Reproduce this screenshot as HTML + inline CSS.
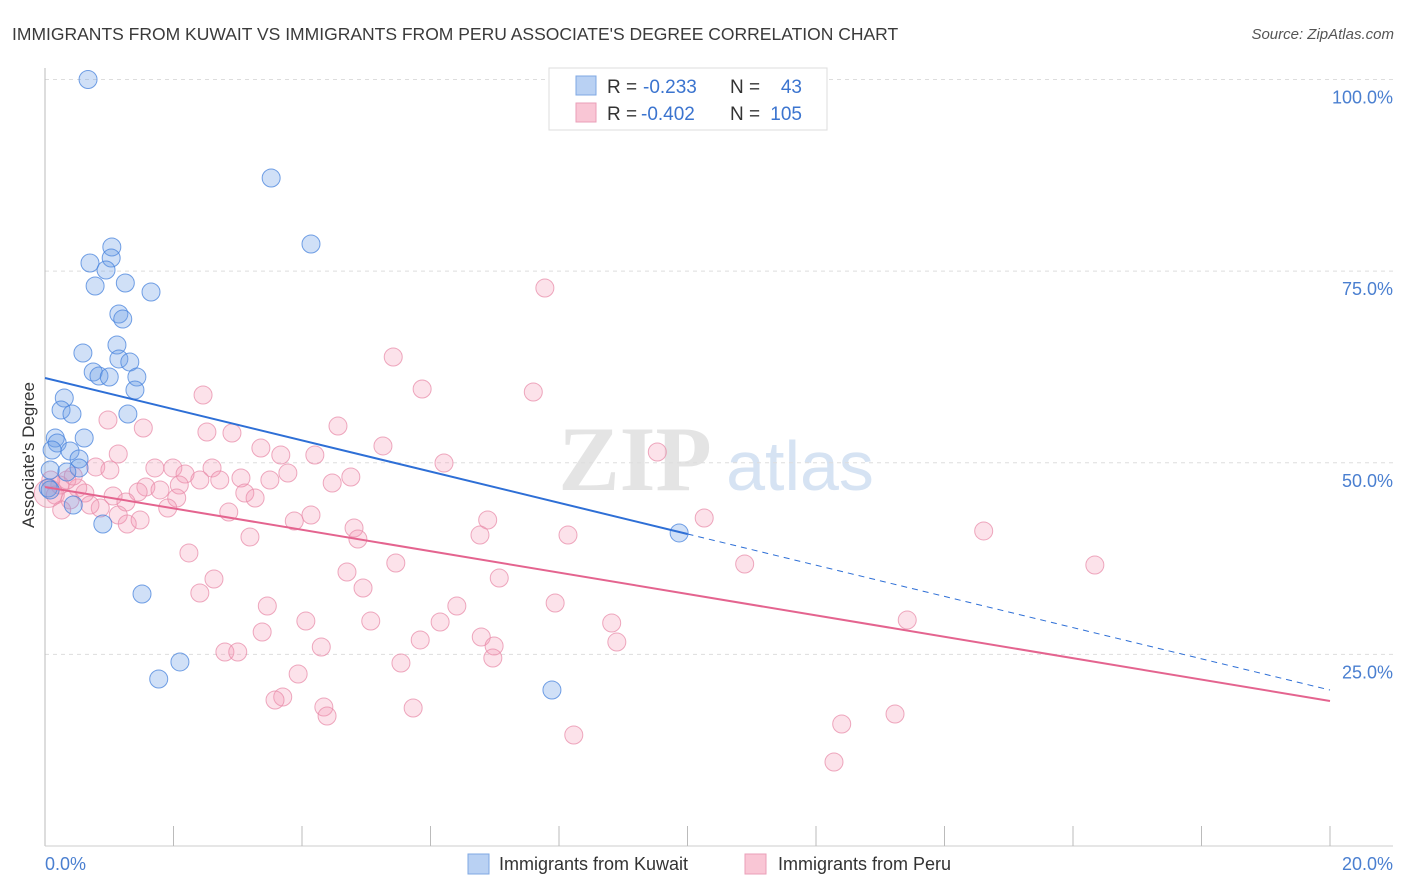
<!DOCTYPE html>
<html><head><meta charset="utf-8"><style>
body{margin:0;background:#fff;font-family:"Liberation Sans",sans-serif;}
svg{display:block}
</style></head><body>
<svg id="chart" width="1406" height="892" font-family="Liberation Sans, sans-serif">
<text x="12" y="40" font-size="17.5" fill="#3a3a3a">IMMIGRANTS FROM KUWAIT VS IMMIGRANTS FROM PERU ASSOCIATE'S DEGREE CORRELATION CHART</text>
<text x="1394" y="39" font-size="15" fill="#555" font-style="italic" text-anchor="end">Source: ZipAtlas.com</text>
<g>
<text x="635" y="490" font-size="92" fill="#e4e4e4" font-family="Liberation Serif, serif" text-anchor="middle" font-weight="bold">ZIP</text>
<text x="800" y="490" font-size="70" fill="#d6e3f3" text-anchor="middle">atlas</text>
</g>
<g id="grid"></g>
<g id="axes"></g>
<g id="marks"></g>
<g id="trends"></g>
<text transform="translate(34,455) rotate(-90)" font-size="17" fill="#333" text-anchor="middle">Associate's Degree</text>
<g>
<rect x="549" y="68" width="278" height="62" fill="#fff" stroke="#ddd"/>
<rect x="576" y="76" width="20" height="19" fill="#b9d1f3" stroke="#7fa8e3"/>
<rect x="576" y="103" width="20" height="19" fill="#f9c6d5" stroke="#ea9fb8"/>
<text x="607" y="93" font-size="19" fill="#333">R = </text><text x="643" y="93" font-size="19" fill="#3b74cf">-0.233</text>
<text x="730" y="93" font-size="19" fill="#333">N = </text><text x="802" y="93" font-size="19" fill="#3b74cf" text-anchor="end">43</text>
<text x="607" y="120" font-size="19" fill="#333">R = </text><text x="641" y="120" font-size="19" fill="#3b74cf">-0.402</text>
<text x="730" y="120" font-size="19" fill="#333">N = </text><text x="802" y="120" font-size="19" fill="#3b74cf" text-anchor="end">105</text>
</g>
<g>
<rect x="468" y="854" width="21" height="20" fill="#b9d1f3" stroke="#7fa8e3"/>
<text x="499" y="870" font-size="18" fill="#333">Immigrants from Kuwait</text>
<rect x="745" y="854" width="21" height="20" fill="#f9c6d5" stroke="#ea9fb8"/>
<text x="778" y="870" font-size="18" fill="#333">Immigrants from Peru</text>
</g>
</svg>
<script>
const yTicks=[25,50,75,100];
const yTickLabels=["25.0%","50.0%","75.0%","100.0%"];
const xTickLabels=["0.0%","20.0%"];
const kuwaitX=[.67,3.52,4.14,1.04,.70,1.03,.95,.78,1.25,1.65,1.15,1.21,.59,1.12,.75,1.15,1.32,.84,1.00,1.43,1.40,.30,.25,.42,1.29,.61,.16,.19,.11,.39,.53,.53,.34,.08,.05,.44,.90,1.51,2.10,1.77,7.89,9.87,.08];
const kuwaitY=[100.0,87.15,78.54,78.15,76.06,76.71,75.15,73.06,73.45,72.28,69.41,68.75,64.32,65.36,61.84,63.54,63.14,61.32,61.19,61.19,59.49,58.45,56.88,56.36,56.36,53.23,53.23,52.58,51.66,51.53,50.49,49.32,48.79,49.05,46.71,44.49,42.01,32.88,24.01,21.79,20.35,40.84,46.45];
const peruX=[7.78,5.42,5.87,7.60,2.46,.98,1.53,4.56,2.52,2.91,5.26,3.36,1.14,3.67,4.20,9.53,6.21,.79,1.71,1.99,2.60,3.78,2.18,4.76,3.05,3.50,4.47,2.72,1.57,2.09,1.79,1.45,3.11,3.27,2.05,1.06,1.26,.86,.62,.51,.23,.34,.44,.09,.16,.39,1.91,2.86,1.14,1.28,3.88,4.14,6.89,4.81,6.77,8.14,4.87,10.26,14.61,3.19,2.24,16.34,10.89,5.46,4.70,2.63,7.07,4.95,2.41,7.94,3.46,6.41,4.06,5.07,6.15,8.82,13.42,3.38,6.79,5.84,8.90,4.30,6.99,2.80,3.00,6.97,5.54,3.94,3.70,3.58,4.34,4.39,5.73,12.40,13.23,8.23,12.28,.26,.70,2.41,1.48,1.01,.05];
const peruY=[72.80,63.80,59.62,59.23,58.84,55.58,54.53,54.79,54.01,53.88,52.19,51.92,51.14,51.01,51.01,51.40,49.97,49.45,49.32,49.32,49.32,48.66,48.53,48.14,48.01,47.75,47.36,47.75,46.84,47.10,46.45,46.18,46.05,45.40,45.40,45.66,44.88,44.10,46.05,46.71,47.10,47.75,48.27,47.75,45.79,45.14,44.10,43.57,43.18,42.01,42.40,43.18,42.53,41.49,40.57,40.57,40.05,42.79,41.10,40.31,38.23,36.66,36.79,36.92,35.75,34.83,34.96,33.66,33.01,31.70,31.31,31.31,29.35,29.35,29.22,29.09,29.48,27.92,27.27,26.88,26.61,25.96,26.09,25.31,25.31,24.53,23.87,22.44,19.44,19.05,18.13,16.96,18.00,15.92,17.22,14.48,10.96,43.84,44.49,47.75,42.53,49.05,46.0];
const kuwaitTrend=[61.06,20.35];
const peruTrend=[46.84,18.92];
const kuwaitSolidEnd=10;

const NS="http://www.w3.org/2000/svg";
const X0=45,X1=1330,Y0=846,YSCALE=7.665;
function sx(v){return X0+v/20*(X1-X0);}
function sy(v){return Y0-v*YSCALE;}
function mk(tag,attrs,parent){const e=document.createElementNS(NS,tag);for(const k in attrs)e.setAttribute(k,attrs[k]);parent.appendChild(e);return e;}
const grid=document.getElementById('grid'),axes=document.getElementById('axes'),marks=document.getElementById('marks'),trends=document.getElementById('trends');
yTicks.forEach((t,i)=>{
 const l=mk('line',{x1:X0,x2:1393,y1:sy(t),y2:sy(t),stroke:'#ddd','stroke-dasharray':'4,4'},grid);
 
 
 const tx=mk('text',{x:1393,y:sy(t)+24,'font-size':18,fill:'#4a7fd0','text-anchor':'end'},axes);
 tx.textContent=yTickLabels[i];
 
 
});
const ya=mk('line',{x1:X0,x2:X0,y1:68,y2:Y0,stroke:'#bbb'},axes);


const xa=mk('line',{x1:X0,x2:1393,y1:Y0,y2:Y0,stroke:'#ccc'},axes);


for(let i=1;i<=10;i++){
 const t=mk('line',{x1:sx(i*2),x2:sx(i*2),y1:826,y2:Y0,stroke:'#bbb'},axes);
 
 
}
const xl0=mk('text',{x:45,y:870,'font-size':18,fill:'#4a7fd0'},axes);xl0.textContent=xTickLabels[0];


const xl1=mk('text',{x:1393,y:870,'font-size':18,fill:'#4a7fd0','text-anchor':'end'},axes);xl1.textContent=xTickLabels[1];


peruX.forEach((v,i)=>{
 const c=mk('circle',{cx:sx(v),cy:sy(peruY[i]),r:i===peruX.length-1?14:9,fill:'rgba(244,150,180,0.28)',stroke:'rgba(232,140,170,0.75)','stroke-width':1},marks);
 
 
});
kuwaitX.forEach((v,i)=>{
 const c=mk('circle',{cx:sx(v),cy:sy(kuwaitY[i]),r:9,fill:'rgba(110,160,230,0.32)',stroke:'rgba(70,130,220,0.75)','stroke-width':1},marks);
 
 
});
function tv(tr,x){return tr[0]+(tr[1]-tr[0])*x/20;}
const kb=mk('line',{x1:sx(0),y1:sy(tv(kuwaitTrend,0)),x2:sx(kuwaitSolidEnd),y2:sy(tv(kuwaitTrend,kuwaitSolidEnd)),stroke:'#2e6fd6','stroke-width':2},trends);


const kd=mk('line',{x1:sx(kuwaitSolidEnd),y1:sy(tv(kuwaitTrend,kuwaitSolidEnd)),x2:sx(20),y2:sy(tv(kuwaitTrend,20)),stroke:'#2e6fd6','stroke-width':1,'stroke-dasharray':'6,5'},trends);


const pt=mk('line',{x1:sx(0),y1:sy(tv(peruTrend,0)),x2:sx(20),y2:sy(tv(peruTrend,20)),stroke:'#e4648f','stroke-width':2},trends);


</script>
</body></html>
